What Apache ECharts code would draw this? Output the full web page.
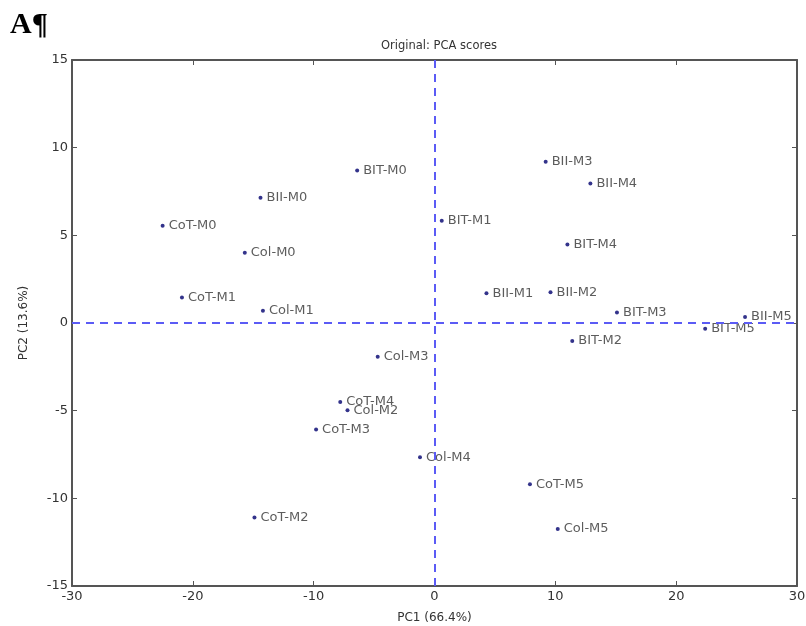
<!DOCTYPE html>
<html>
<head>
<meta charset="utf-8">
<script src="https://cdn.jsdelivr.net/npm/echarts@6/dist/echarts.min.js"></script>
<style>
  html, body { margin: 0; padding: 0; background: #fff; }
  #pca-chart { width: 806px; height: 626px; }
</style>
</head>
<body>
<div id="pca-chart"></div>
<script>
// sample names and PCA scores
const names = ["BIT-M0", "BII-M0", "CoT-M0", "Col-M0", "CoT-M1", "Col-M1",
  "BIT-M1", "BII-M3", "BII-M4", "BIT-M4", "BII-M1", "BII-M2",
  "BIT-M3", "BII-M5", "BIT-M5", "BIT-M2", "Col-M3", "CoT-M4",
  "Col-M2", "CoT-M3", "Col-M4", "CoT-M5", "Col-M5", "CoT-M2"];
const pc1 = [-6.4, -14.4, -22.5, -15.7, -20.9, -14.2,
  0.6, 9.2, 12.9, 11.0, 4.3, 9.6,
  15.1, 25.7, 22.4, 11.4, -4.7, -7.8,
  -7.2, -9.8, -1.2, 7.9, 10.2, -14.9];
const pc2 = [8.7, 7.15, 5.55, 4.0, 1.45, 0.7,
  5.83, 9.2, 7.96, 4.48, 1.7, 1.75,
  0.6, 0.34, -0.33, -1.03, -1.93, -4.5,
  -4.97, -6.08, -7.65, -9.2, -11.75, -11.1];
const xTicks = [-30, -20, -10, 0, 10, 20, 30];
const yTicks = [-15, -10, -5, 0, 5, 10, 15];

let myChart = echarts.init(document.getElementById("pca-chart"));

let points = [];
for (let i = 0; i < names.length; i++) {
  points.push({ name: names[i], value: [pc1[i], pc2[i]] });
}

const font = "DejaVu Sans";
let tickLabel = {
  color: "#333",
  fontFamily: font,
  fontSize: 13,
  margin: 4
};
let frame = { show: true, onZero: false, lineStyle: { color: "#555", width: 2 } };
let ticks = { show: true, inside: true, length: 5, lineStyle: { color: "#555" } };

let option = {
  animation: false,
  backgroundColor: "#fff",
  title: {
    text: "Original: PCA scores",
    left: 434,
    top: 35,
    textAlign: "center",
    textStyle: { fontFamily: font, fontSize: 11.5, fontWeight: "normal", color: "#333" }
  },
  graphic: [
    {
      type: "text",
      left: 10,
      top: 10,
      style: {
        text: "A\u00b6",
        fontFamily: "Liberation Serif",
        fontWeight: "bold",
        fontSize: 30,
        fill: "#000"
      }
    }
  ],
  grid: { left: 72, right: 9, top: 60, bottom: 40, outerBoundsMode: "none" },
  xAxis: [
    {
      type: "value",
      min: -30, max: 30, interval: 10,
      position: "bottom",
      name: "PC1 (66.4%)",
      nameLocation: "middle",
      nameGap: 26,
      nameTextStyle: { fontFamily: font, fontSize: 12, color: "#333" },
      axisLine: frame,
      axisTick: ticks,
      axisLabel: Object.assign({ formatter: v => xTicks.includes(v) ? String(v) : "" }, tickLabel),
      splitLine: { show: false }
    },
    {
      type: "value",
      min: -30, max: 30, interval: 10,
      position: "top",
      axisLine: frame,
      axisTick: ticks,
      axisLabel: { show: false },
      splitLine: { show: false }
    }
  ],
  yAxis: [
    {
      type: "value",
      min: -15, max: 15, interval: 5,
      position: "left",
      name: "PC2 (13.6%)",
      nameLocation: "middle",
      nameGap: 42,
      nameTextStyle: { fontFamily: font, fontSize: 12, color: "#333" },
      axisLine: frame,
      axisTick: ticks,
      axisLabel: Object.assign({ formatter: v => yTicks.includes(v) ? String(v) : "" }, tickLabel),
      splitLine: { show: false }
    },
    {
      type: "value",
      min: -15, max: 15, interval: 5,
      position: "right",
      axisLine: frame,
      axisTick: ticks,
      axisLabel: { show: false },
      splitLine: { show: false }
    }
  ],
  series: [
    {
      type: "scatter",
      xAxisIndex: 0,
      yAxisIndex: 0,
      symbolSize: 4,
      itemStyle: { color: "#00006e" },
      label: {
        show: true,
        position: "right",
        distance: 4,
        formatter: p => p.name,
        fontFamily: font,
        fontSize: 13,
        color: "#333"
      },
      markLine: {
        silent: true,
        symbol: "none",
        label: { show: false },
        lineStyle: { color: "#5b5bf5", type: [8, 6], width: 2 },
        data: [{ xAxis: 0 }, { yAxis: 0 }]
      },
      data: points
    }
  ]
};

myChart.setOption(option);
</script>
</body>
</html>
